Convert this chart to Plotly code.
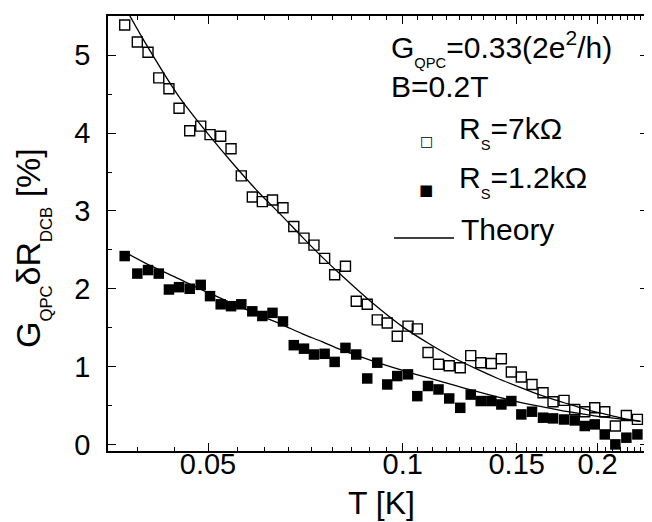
import plotly.graph_objects as go

# ---------------- data ----------------
T_K = [0.03717, 0.03888, 0.04039, 0.04196, 0.04351, 0.0451, 0.04685, 0.04872, 0.05036, 0.05231,
       0.05427, 0.05629, 0.05854, 0.06066, 0.0629, 0.06529, 0.06785, 0.07036, 0.0729, 0.07572,
       0.07847, 0.08155, 0.08474, 0.08812, 0.09132, 0.09462, 0.09805, 0.10188, 0.1053, 0.1094,
       0.11356, 0.11797, 0.12269, 0.12736, 0.13198, 0.13705, 0.14202, 0.14716, 0.15249, 0.15839,
       0.16472, 0.17068, 0.17751, 0.18439, 0.19109, 0.19801, 0.20518, 0.21308, 0.2216, 0.23047]

rs7k = [5.39, 5.17, 5.04, 4.71, 4.57, 4.32, 4.03, 4.09, 3.98, 3.96,
        3.80, 3.45, 3.18, 3.12, 3.14, 3.04, 2.80, 2.65, 2.56, 2.39,
        2.18, 2.29, 1.84, 1.80, 1.60, 1.56, 1.39, 1.52, 1.485, 1.18,
        1.03, 1.01, 0.985, 1.14, 1.05, 1.04, 1.10, 0.93, 0.865, 0.77,
        0.664, 0.548, 0.565, 0.449, 0.42, 0.471, 0.42, 0.236, 0.372, 0.321]

rs12k = [2.42, 2.195, 2.24, 2.195, 1.99, 2.02, 2.00, 2.05, 1.905, 1.80,
         1.776, 1.80, 1.71, 1.65, 1.69, 1.58, 1.275, 1.23, 1.155, 1.164,
         1.06, 1.24, 1.155, 0.847, 1.05, 0.77, 0.878, 0.90, 0.62, 0.75,
         0.706, 0.59, 0.47, 0.64, 0.557, 0.557, 0.513, 0.557, 0.385, 0.42,
         0.343, 0.334, 0.32, 0.308, 0.236, 0.257, 0.128, 0.0, 0.086, 0.128]

T_theory = [0.0372, 0.04, 0.045, 0.05, 0.055, 0.06, 0.065, 0.07, 0.075, 0.08,
            0.09, 0.10, 0.11, 0.12, 0.13, 0.14, 0.15, 0.16, 0.17, 0.18,
            0.19, 0.20, 0.21, 0.22, 0.233]
theory7k = [5.62, 5.16, 4.48, 3.99, 3.58, 3.23, 2.94, 2.66, 2.41, 2.19,
            1.81, 1.51, 1.29, 1.11, 0.97, 0.85, 0.75, 0.66, 0.585, 0.52,
            0.46, 0.41, 0.37, 0.33, 0.295]
theory12k = [2.47, 2.33, 2.13, 1.95, 1.80, 1.66, 1.54, 1.42, 1.32, 1.22,
             1.07, 0.95, 0.85, 0.76, 0.68, 0.61, 0.55, 0.50, 0.46, 0.42,
             0.39, 0.36, 0.34, 0.32, 0.295]

x_tickvals = [0.05, 0.1, 0.15, 0.2]
x_ticktext = ["0.05", "0.1", "0.15", "0.2"]
y_tickvals = [0, 1, 2, 3, 4, 5]
y_ticktext = ["0", "1", "2", "3", "4", "5"]

# minor ticks: 8 linear subdivisions between the 0.05-spaced major ticks
x_minor = [round(0.05 * k / 9, 5) for k in range(6, 44) if k % 9 != 0]

FONT = "Liberation Sans, Arial, Helvetica, sans-serif"

fig = go.Figure()
fig.add_trace(go.Scatter(x=T_theory, y=theory7k, mode="lines", line=dict(color="black", width=1.3, shape="spline", smoothing=0.8),
                         name="Theory", showlegend=False))
fig.add_trace(go.Scatter(x=T_theory, y=theory12k, mode="lines", line=dict(color="black", width=1.3, shape="spline", smoothing=0.8),
                         name="Theory", showlegend=False))
fig.add_trace(go.Scatter(x=T_K, y=rs7k, mode="markers", name="R_S=7kΩ",
                         marker=dict(symbol="square-open", size=10, color="black", line=dict(width=1.4, color="black")),
                         cliponaxis=False))
fig.add_trace(go.Scatter(x=T_K, y=rs12k, mode="markers", name="R_S=1.2kΩ",
                         marker=dict(symbol="square", size=10.5, color="black", line=dict(width=0)),
                         cliponaxis=False))

L, R, TOP, B = 100, 12, 8, 79
W, H = 652, 522
pw, ph = W - L - R, H - TOP - B


def px(x):
    return (x - L) / pw


def py(y):
    return (H - B - y) / ph


axis_common = dict(showgrid=False, zeroline=False, showline=True, linecolor="black", linewidth=1.5,
                   mirror="ticks", ticks="inside", ticklen=8, tickwidth=1.3, tickcolor="black",
                   tickfont=dict(family=FONT, size=29, color="black"))

fig.update_xaxes(type="log", range=[-1.4556, -0.6210], tickmode="array", tickvals=x_tickvals, ticktext=x_ticktext,
                 minor=dict(tickmode="array", tickvals=x_minor, ticks="inside", ticklen=4.5, tickwidth=1.2,
                            tickcolor="black", showgrid=False),
                 **axis_common)
try:
    fig.update_xaxes(ticklabelstandoff=-14)
except Exception:
    fig.update_xaxes(ticklabelstandoff=0)
fig.update_yaxes(range=[-0.085, 5.505], tickmode="array", tickvals=y_tickvals, ticktext=y_ticktext,
                 minor=dict(dtick=0.5, ticks="inside", ticklen=4.5, tickwidth=1.2, tickcolor="black", showgrid=False),
                 ticklabelstandoff=10, **axis_common)

DY = 8  # annotation box centre sits ~8 px above the visual text centre
ann = []
# axis titles
ann.append(dict(text="T [K]", x=px(373), y=py(503 - DY), xref="paper", yref="paper", showarrow=False,
                xanchor="center", yanchor="middle", font=dict(family=FONT, size=32, color="black")))
ann.append(dict(text="G<sub><sub>QPC</sub></sub>δR<sub><sub>DCB</sub></sub> [%]", x=px(24), y=py(240),
                xref="paper", yref="paper", showarrow=False, textangle=-90,
                xanchor="center", yanchor="middle", font=dict(family=FONT, size=34, color="black")))
# legend block
LX = 381
FS = 30
ann.append(dict(text="G<sub><sub>QPC</sub></sub>=0.33(2e<sup>2</sup>/h)", x=px(LX), y=py(48 - DY), xref="paper", yref="paper",
                showarrow=False, xanchor="left", yanchor="middle", font=dict(family=FONT, size=FS, color="black")))
ann.append(dict(text="B=0.2T", x=px(LX), y=py(87 - DY), xref="paper", yref="paper",
                showarrow=False, xanchor="left", yanchor="middle", font=dict(family=FONT, size=FS, color="black")))
ann.append(dict(text="R<sub><sub>S</sub></sub>=7kΩ", x=px(449), y=py(133 - DY), xref="paper", yref="paper",
                showarrow=False, xanchor="left", yanchor="middle", font=dict(family=FONT, size=FS, color="black")))
ann.append(dict(text="R<sub><sub>S</sub></sub>=1.2kΩ", x=px(449), y=py(181 - DY), xref="paper", yref="paper",
                showarrow=False, xanchor="left", yanchor="middle", font=dict(family=FONT, size=FS, color="black")))
ann.append(dict(text="Theory", x=px(451), y=py(229 - DY), xref="paper", yref="paper",
                showarrow=False, xanchor="left", yanchor="middle", font=dict(family=FONT, size=FS, color="black")))
ann.append(dict(text="□", x=px(418), y=py(137 - 4), xref="paper", yref="paper",
                showarrow=False, xanchor="center", yanchor="middle", font=dict(family="DejaVu Sans", size=14, color="black")))
ann.append(dict(text="■", x=px(418), y=py(186 - 4), xref="paper", yref="paper",
                showarrow=False, xanchor="center", yanchor="middle", font=dict(family="DejaVu Sans", size=15, color="black")))

fig.update_layout(width=W, height=H, margin=dict(l=L, r=R, t=TOP, b=B, autoexpand=False),
                  plot_bgcolor="white", paper_bgcolor="white", showlegend=False,
                  font=dict(family=FONT, color="black"), annotations=ann,
                  shapes=[dict(type="line", xref="paper", yref="paper", x0=px(386), x1=px(446), y0=py(230), y1=py(230),
                               line=dict(color="black", width=1.3))])

fig.write_html("out.html")
